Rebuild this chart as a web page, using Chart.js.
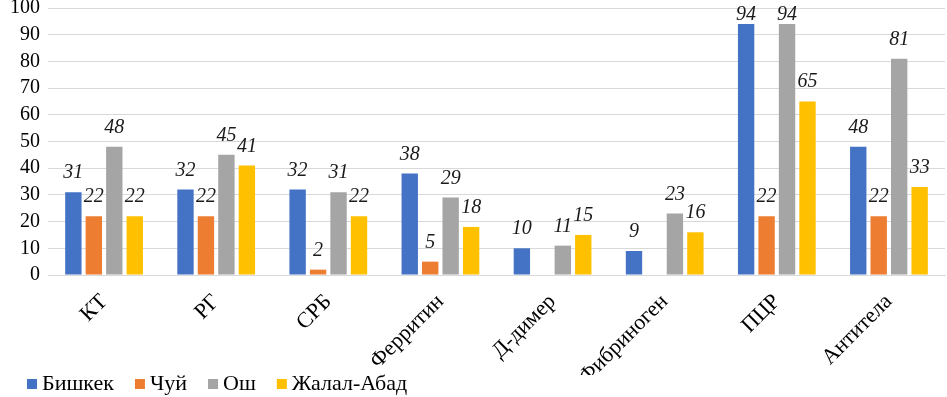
<!DOCTYPE html>
<html>
<head>
    <meta charset="UTF-8" />
    <title>Chart</title>
    <script src="https://cdn.jsdelivr.net/npm/chart.js"></script>
    <style>
        html, body { margin: 0; padding: 0; background: #fff; overflow: hidden; }
        #wrap { width: 947px; height: 397px; position: relative; }
        #preload { position: absolute; left: -2000px; top: 0; font-family: 'Liberation Serif', serif; font-size: 20px; }
    </style>
</head>
<body>
    <div id="preload">Бишкек 123 <i>Бишкек 123</i></div>
    <div id="wrap"><canvas id="barChart"></canvas></div>
    <script>
        const categories = ['КТ', 'РГ', 'СРБ', 'Ферритин', 'Д-димер', 'Фибриноген', 'ПЦР', 'Антитела'];
        const bishkek = [31, 32, 32, 38, 10, 9, 94, 48];
        const chui = [22, 22, 2, 5, null, null, 22, 22];
        const osh = [48, 45, 31, 29, 11, 23, 94, 81];
        const jalalAbad = [22, 41, 22, 18, 15, 16, 65, 33];
        const yTicks = [0, 10, 20, 30, 40, 50, 60, 70, 80, 90, 100];

        const fam = "'Liberation Serif', serif";

        const valueLabels = {
            id: 'valueLabels',
            afterDatasetsDraw(chart) {
                const ctx = chart.ctx;
                ctx.save();
                ctx.font = "italic 20px 'Liberation Serif', serif";
                ctx.fillStyle = '#1a1a1a';
                ctx.textAlign = 'center';
                ctx.textBaseline = 'alphabetic';
                chart.data.datasets.forEach((ds, i) => {
                    chart.getDatasetMeta(i).data.forEach((bar, j) => {
                        const v = ds.data[j];
                        if (v == null) return;
                        // keep tall-bar labels inside the canvas
                        ctx.fillText(String(v), bar.x, Math.max(bar.y - 14, 20));
                    });
                });
                ctx.restore();
            }
        };

        // legend drawn by hand so it sits like the original
        const bottomLegend = {
            id: 'bottomLegend',
            afterDraw(chart) {
                const ctx = chart.ctx;
                const y = 384;
                let x = 27;
                ctx.save();
                ctx.font = "22px 'Liberation Serif', serif";
                ctx.textBaseline = 'middle';
                ctx.textAlign = 'left';
                chart.data.datasets.forEach(ds => {
                    ctx.fillStyle = ds.backgroundColor;
                    ctx.fillRect(x, y - 5, 10, 10);
                    ctx.fillStyle = '#000';
                    ctx.fillText(ds.label, x + 15, y);
                    x += 15 + ctx.measureText(ds.label).width + 21;
                });
                ctx.restore();
            }
        };

        const chart = new Chart(document.getElementById('barChart'), {
            type: 'bar',
            data: {
                labels: categories,
                datasets: [
                    { label: 'Бишкек', data: bishkek, backgroundColor: '#4472C4' },
                    { label: 'Чуй', data: chui, backgroundColor: '#ED7D31' },
                    { label: 'Ош', data: osh, backgroundColor: '#A5A5A5' },
                    { label: 'Жалал-Абад', data: jalalAbad, backgroundColor: '#FFC000' }
                ]
            },
            options: {
                responsive: true,
                maintainAspectRatio: false,
                animation: false,
                layout: { padding: { top: 0, right: 2, left: 0, bottom: 22 } },
                datasets: { bar: { categoryPercentage: 0.73, barPercentage: 0.8 } },
                plugins: {
                    legend: { display: false },
                    tooltip: { enabled: false }
                },
                scales: {
                    x: {
                        afterFit: axis => { axis.height = 100; },
                        grid: { display: false },
                        border: { display: true, color: '#d9d9d9' },
                        ticks: {
                            color: '#000',
                            minRotation: 45,
                            maxRotation: 45,
                            padding: 6,
                            font: { family: fam, size: 22 }
                        }
                    },
                    y: {
                        min: 0,
                        max: 100,
                        afterFit: axis => {
                            axis.width = 48;
                            axis.paddingTop = 8;
                            axis.paddingBottom = 0;
                        },
                        afterBuildTicks: axis => { axis.ticks = yTicks.map(v => ({ value: v })); },
                        grid: { color: '#d9d9d9', drawTicks: false },
                        border: { display: false },
                        ticks: {
                            color: '#000',
                            autoSkip: false,
                            padding: 8,
                            font: { family: fam, size: 20 }
                        }
                    }
                }
            },
            plugins: [valueLabels, bottomLegend]
        });

        // redraw once the serif faces are ready
        if (document.fonts) {
            Promise.all([
                document.fonts.load("20px 'Liberation Serif'"),
                document.fonts.load("italic 20px 'Liberation Serif'")
            ]).then(() => chart.update('none'));
        }
    </script>
</body>
</html>
